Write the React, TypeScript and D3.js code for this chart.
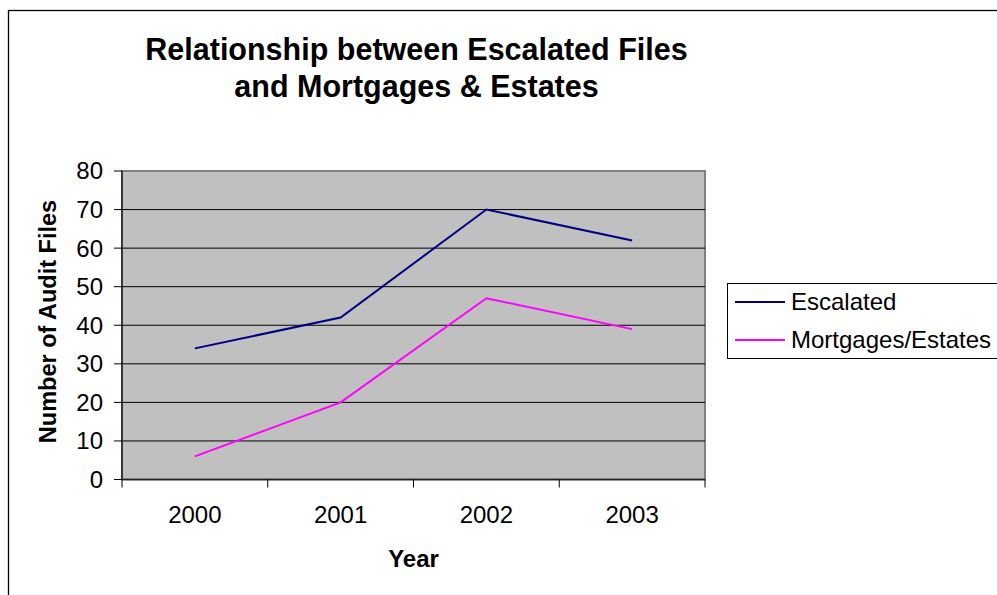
import React from "react";
import * as d3 from "d3";

const years = ["2000", "2001", "2002", "2003"];
const escalated = [34, 42, 70, 62];
const mortgages = [6, 20, 47, 39];
const yTicks = [0, 10, 20, 30, 40, 50, 60, 70, 80];
const seriesNames = ["Escalated", "Mortgages/Estates"];
const seriesColors = ["#000080", "#FF00FF"];

const W = 997;
const H = 595;
const plot = { left: 122, right: 705, top: 171, bottom: 479.5 };
const font = "Arial, 'Liberation Sans', sans-serif";

export default function App() {
  const x = d3.scaleBand<string>().domain(years).range([plot.left, plot.right]).padding(0);
  const y = d3.scaleLinear().domain([0, 80]).range([plot.bottom, plot.top]);
  const line = d3
    .line<number>()
    .x((_, i) => (x(years[i]) as number) + x.bandwidth() / 2)
    .y((d) => y(d));
  const series = [escalated, mortgages];
  const xBoundaries = years.map((yr) => x(yr) as number).concat([plot.right]);

  return (
    <svg
      width={W}
      height={H}
      style={{ position: "absolute", left: 0, top: 0, background: "#fff" }}
      fontFamily={font}
    >
      <rect x={8.5} y={10.5} width={1000} height={600} fill="#fff" stroke="#000" strokeWidth={1.3} />
      <text x={416.5} y={60} textAnchor="middle" fontSize={30.5} fontWeight="bold">
        Relationship between Escalated Files
      </text>
      <text x={416.5} y={97} textAnchor="middle" fontSize={30.5} fontWeight="bold">
        and Mortgages &amp; Estates
      </text>

      <rect
        x={plot.left}
        y={plot.top}
        width={plot.right - plot.left}
        height={plot.bottom - plot.top}
        fill="#C0C0C0"
        stroke="#808080"
        strokeWidth={2}
      />
      {yTicks.slice(1, -1).map((t) => (
        <line key={t} x1={plot.left} x2={plot.right} y1={y(t)} y2={y(t)} stroke="#000" strokeWidth={1} />
      ))}
      {/* y axis */}
      <line x1={plot.left} x2={plot.left} y1={plot.top} y2={plot.bottom} stroke="#222" strokeWidth={1.5} />
      {yTicks.map((t) => (
        <g key={t}>
          <line x1={plot.left - 8} x2={plot.left} y1={y(t)} y2={y(t)} stroke="#000" strokeWidth={1} />
          <text x={103} y={y(t)} dy="0.35em" textAnchor="end" fontSize={24}>
            {t}
          </text>
        </g>
      ))}
      {/* x axis */}
      <line x1={plot.left} x2={plot.right} y1={plot.bottom} y2={plot.bottom} stroke="#222" strokeWidth={1.5} />
      {xBoundaries.map((b, i) => (
        <line key={i} x1={b} x2={b} y1={plot.bottom} y2={plot.bottom + 8} stroke="#000" strokeWidth={1} />
      ))}
      {years.map((yr) => (
        <text
          key={yr}
          x={(x(yr) as number) + x.bandwidth() / 2}
          y={523}
          textAnchor="middle"
          fontSize={24}
        >
          {yr}
        </text>
      ))}

      {series.map((s, i) => (
        <path key={i} d={line(s) as string} fill="none" stroke={seriesColors[i]} strokeWidth={2} />
      ))}

      <text x={413.5} y={567} textAnchor="middle" fontSize={24} fontWeight="bold">
        Year
      </text>
      <text
        transform={`translate(56,${321.5}) rotate(-90)`}
        textAnchor="middle"
        fontSize={23.5}
        fontWeight="bold"
      >
        Number of Audit Files
      </text>

      <rect x={727.5} y={283.5} width={280} height={75} fill="#fff" stroke="#000" strokeWidth={1} />
      {seriesNames.map((n, i) => (
        <g key={n}>
          <line x1={735} x2={785} y1={302 + i * 38} y2={302 + i * 38} stroke={seriesColors[i]} strokeWidth={2} />
          <text x={791} y={302 + i * 38} dy="0.35em" fontSize={24}>
            {n}
          </text>
        </g>
      ))}
    </svg>
  );
}
